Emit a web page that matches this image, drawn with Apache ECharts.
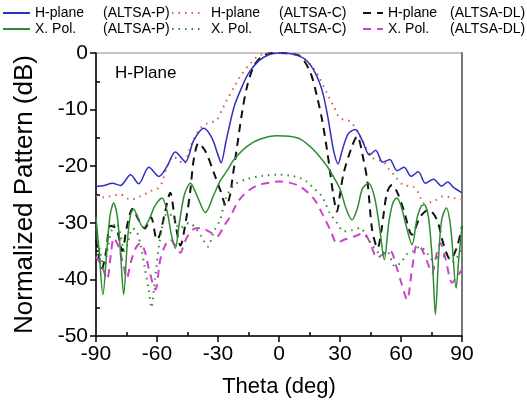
<!DOCTYPE html>
<html><head><meta charset="utf-8">
<script src="https://cdn.jsdelivr.net/npm/echarts@6/dist/echarts.min.js"></script>
<style>html,body{margin:0;padding:0;background:#fff}#c{width:527px;height:406px}</style>
</head><body><div id="c"></div>
<script>
// ---- data (theta in deg, normalized pattern in dB) ----
const xTicks = [-90, -60, -30, 0, 30, 60, 90];
const yTicks = [-50, -40, -30, -20, -10, 0];

const thetaHP_P = [-90,-86,-82,-78,-73,-69,-64,-59,-55,-51,-46,-42,-37,-33,-30,-28.5,-26,-22,-18,-15,-10,-5,0,5,10,14,17,20,22,24,25.5,27,29,31,34,37.5,41,44.5,47.5,51,54.5,58,61.5,65,68.5,72,76,80,83,86,90];
const hPlaneP   = [-23.6,-23.4,-23.0,-23.4,-21.5,-23.1,-20.2,-21.8,-20.0,-17.5,-19.2,-15.5,-13.3,-15.0,-18.0,-19.4,-15.5,-9.4,-5.8,-3.6,-1.4,-0.3,0,-0.1,-0.5,-1.5,-3.0,-5.3,-7.7,-11.3,-14.5,-17.5,-19.6,-17.3,-14.3,-13.5,-15.5,-18.0,-17.2,-19.3,-18.8,-20.8,-20.2,-21.8,-21.0,-23.0,-22.3,-23.5,-22.8,-23.8,-24.7];

const thetaHP_C = [-90,-86,-83,-78,-73,-68,-63,-58.5,-55,-52,-49,-47,-44,-42,-38,-35,-30.5,-28,-25.6,-22,-19,-14,-9,0,9,13,17,19.5,23.6,27,30,35,40,43.3,46,48.5,51.5,54,56.5,61,66,69,71,76,81,86,90];
const hPlaneC   = [-25.3,-25.5,-25.3,-25.0,-25.9,-25.3,-24.4,-23.6,-20.0,-18.3,-19.0,-19.7,-17.0,-15.3,-13.0,-12.4,-11.8,-10.0,-8.3,-6.0,-4.1,-1.8,-0.3,0,-0.3,-1.2,-2.7,-4.1,-7.1,-9.5,-11.5,-12.1,-14.7,-17.1,-18.5,-18.9,-19.2,-20.5,-21.5,-23.3,-23.6,-25.0,-26.5,-26.2,-25.3,-25.6,-25.9];

const thetaHP_DL = [-90,-87,-85,-83,-80,-77,-75,-72,-69,-66,-63,-60,-58.5,-56,-53.5,-51,-48.5,-45.5,-43.5,-42,-39.5,-36,-32,-28.9,-26,-24,-23,-20.6,-18.2,-15.7,-12.5,-9,-5,0,5,10.5,15.5,18.7,21.2,23.6,25.2,26.8,28.5,30,31.8,35.9,38.4,41.6,43.6,45.8,48.5,50.5,53.1,55.6,58,61.3,65.4,69.5,73.6,77.7,81,84.3,87.6,90];
const hPlaneDL   = [-33,-38,-35,-30.5,-31,-35,-31,-27.5,-29.5,-31,-29,-33,-32,-28,-24.7,-30,-34,-29,-24,-19,-15.9,-17.5,-21.2,-24.2,-27,-25,-22.4,-16.5,-10.6,-5.9,-2.4,-0.8,-0.1,0,-0.1,-0.6,-3.5,-7.7,-11.8,-17.1,-21.2,-25.3,-28,-25,-21.2,-16.5,-14.7,-18.9,-23,-31.2,-34.5,-31,-24.7,-23.3,-24.5,-27.7,-32.1,-28.9,-27.7,-29.5,-33.9,-36.5,-34.2,-30.6];

const thetaXP_P = [-90,-88.5,-86.6,-84.5,-83,-81.3,-79.5,-78,-76.4,-74.5,-73,-71.5,-69,-66.6,-64,-61,-57.5,-55,-53,-51,-49,-46.5,-43.6,-40,-36.2,-32,-28.9,-25,-22.3,-15.7,-9.2,-1,5,10.5,17,23.6,27,30.2,33,35.9,38.5,41,44.1,47,49.5,51.8,54,56,58,60,62.5,65.4,68,70,71.5,73.5,75.5,76.9,78.5,80,82.3,84.5,87.1,88.5,90];
const xPolP     = [-29,-35,-42.7,-34,-28.5,-26.5,-29,-35,-42.7,-33,-28.5,-27.6,-29.5,-30.9,-29.5,-27,-25.6,-28,-32,-34.5,-30,-25,-23,-25.5,-28.2,-25,-22.6,-20.5,-18.9,-16.5,-15.2,-14.6,-14.7,-15.2,-17.1,-20,-22,-24.2,-27.5,-29.5,-27.5,-24,-23,-25.5,-31,-36.5,-30,-26.5,-25.6,-27,-30.5,-33.9,-29,-27,-26.8,-29,-37,-46.2,-36,-29.5,-27.4,-31,-41.5,-36,-30.6];

const thetaXP_C = [-90,-88,-86,-84,-82,-80,-78,-76,-74,-72,-70,-68,-66,-64,-62.8,-61,-59,-57,-55,-52,-49,-47,-44,-41,-38,-35,-32,-29,-26,-22,-16,-8,0,6,10.5,14,17,20,22,25,28.5,31.8,36,40,43,46.5,50,53,57,60,63,66,69.5,73,75.3,79,82.7,85,87,90];
const xPolC     = [-31,-35,-38,-34,-31,-30,-32,-35,-33,-31,-31.5,-34,-38,-42,-45,-40,-34,-30,-28.3,-29,-31,-30.6,-30,-31,-32.5,-34.2,-31.5,-29.5,-25.5,-23.3,-22.3,-21.7,-21.5,-21.7,-22.1,-22.8,-23.9,-24.8,-25.9,-28.3,-30,-31.5,-31.3,-30.9,-32.5,-34.2,-35.5,-35,-37.7,-37,-35.5,-35,-34.2,-35.5,-36.5,-36,-35.9,-37,-36.5,-34.2];

const thetaXP_DL = [-90,-87,-84.6,-82.5,-81.3,-78.9,-76.5,-74.8,-73,-70.5,-68.2,-66,-64.1,-60.8,-58.4,-56,-53.5,-51,-48.5,-46.5,-44.5,-41.5,-38.7,-34.5,-30.5,-27,-24,-20,-15.7,-10,-2.6,0,5,10.5,17,22,25.5,28.5,32,35,38.5,41.6,45,48.2,51.5,54.8,57.5,60.5,63,65.5,67.9,70,72.5,75.3,77.5,79.4,82,85.1,87.5,90];
const xPolDL     = [-36,-37.7,-40,-35,-32.7,-34.2,-37.5,-39.8,-37.1,-34.5,-33.6,-35,-38,-41.8,-36.5,-34,-33,-34,-35.3,-33.5,-32.1,-31,-30.9,-31.5,-32.4,-30.5,-28.9,-26.2,-24.5,-23.3,-22.8,-22.7,-22.9,-23.6,-25.7,-28.9,-31.5,-33.6,-33,-32.7,-32.2,-31.8,-33.7,-36.2,-35.5,-35,-37.5,-41,-43.6,-38,-33.9,-34.5,-36.5,-38.9,-35.5,-33.6,-36.5,-40.6,-39.5,-38.3];

const names = [
  'H-plane|(ALTSA-P)', 'X. Pol.|(ALTSA-P)',
  'H-plane|(ALTSA-C)', 'X. Pol.|(ALTSA-C)',
  'H-plane|(ALTSA-DL)', 'X. Pol.|(ALTSA-DL)'
];

function pairs(t, v) { return t.map((x, i) => [x, v[i]]); }

const FONT = 'Liberation Sans, Arial, sans-serif';
const chart = echarts.init(document.getElementById('c'));

function mkSeries(name, t, v, color, width, type) {
  return {
    name: name, type: 'line', xAxisIndex: 0, yAxisIndex: 0,
    data: pairs(t, v), symbol: 'none', smooth: 0.3,
    lineStyle: { color: color, width: width, type: type },
    itemStyle: { color: color }
  };
}

function mkLegend(items, left, itemWidth, sWidth, aWidth) {
  return {
    data: items, left: left, top: 6, orient: 'vertical', padding: 0,
    itemWidth: itemWidth, itemHeight: 12, itemGap: 2,
    itemStyle: { color: 'rgba(0,0,0,0)', borderWidth: 0, opacity: 0 },
    textStyle: {
      fontFamily: FONT, fontSize: 14, color: '#000',
      rich: {
        s: { width: sWidth, fontSize: 14, lineHeight: 15 },
        a: { width: aWidth, fontFamily: FONT, fontSize: 14, color: '#000', lineHeight: 15 },
        b: { fontFamily: FONT, fontSize: 14, color: '#000', lineHeight: 15 }
      }
    },
    formatter: function (n) {
      const p = n.split('|');
      return (sWidth ? '{s|}' : '') + '{a|' + p[0] + '}{b|' + p[1] + '}';
    }
  };
}

const option = {
  backgroundColor: '#fff',
  animation: false,
  grid: { left: 96, right: 65, top: 53, bottom: 70, containLabel: false,
          show: true, borderColor: '#8a8a8a', borderWidth: 1 },
  legend: [
    mkLegend([names[0], names[1]], 2, 27, 0, 68),
    mkLegend([names[2], names[3]], 171, 29, 5, 68),
    mkLegend([names[4], names[5]], 362, 20, 0, 62)
  ],
  graphic: [{
    type: 'text', left: 115, top: 65,
    style: { text: 'H-Plane', fontFamily: FONT, fontSize: 17, fill: '#000' }
  }],
  xAxis: [
    { type: 'value', min: xTicks[0], max: xTicks[xTicks.length - 1], interval: 30, position: 'bottom',
      axisLine: { onZero: false, lineStyle: { color: '#000', width: 1.5 } },
      axisTick: { show: true, inside: false, length: 6, lineStyle: { color: '#000', width: 1.5 } },
      axisLabel: { fontFamily: FONT, fontSize: 21, color: '#000', margin: 8 },
      splitLine: { show: false },
      name: 'Theta (deg)', nameLocation: 'middle', nameGap: 40,
      nameTextStyle: { fontFamily: FONT, fontSize: 22, color: '#000' } },
    { type: 'value', min: -90, max: 90, interval: 30, position: 'bottom',
      axisLine: { show: false, onZero: false }, axisLabel: { show: false },
      axisTick: { show: false, inside: true },
      minorTick: { show: true, splitNumber: 2, length: 4, lineStyle: { color: '#000', width: 1.5 } },
      splitLine: { show: false } }
  ],
  yAxis: [
    { type: 'value', min: yTicks[0], max: yTicks[yTicks.length - 1], interval: 10, position: 'left',
      axisLine: { onZero: false, lineStyle: { color: '#000', width: 1.5 } },
      axisTick: { show: true, inside: false, length: 6, lineStyle: { color: '#000', width: 1.5 } },
      axisLabel: { fontFamily: FONT, fontSize: 21, color: '#000', margin: 8 },
      splitLine: { show: false },
      name: 'Normalized Pattern (dB)', nameLocation: 'middle', nameGap: 58,
      nameTextStyle: { fontFamily: FONT, fontSize: 26, color: '#000' } },
    { type: 'value', min: -50, max: 0, interval: 10, position: 'left',
      axisLine: { show: false, onZero: false }, axisLabel: { show: false },
      axisTick: { show: false, inside: true },
      minorTick: { show: true, splitNumber: 2, length: 4, lineStyle: { color: '#000', width: 1.5 } },
      splitLine: { show: false } },
    { type: 'value', min: -50, max: 0, position: 'right',
      axisLine: { show: true, onZero: false, lineStyle: { color: '#777', width: 2 } },
      axisTick: { show: false }, axisLabel: { show: false }, splitLine: { show: false } }
  ],
  series: [
    mkSeries(names[4], thetaHP_DL, hPlaneDL, '#111111', 2, [8, 6]),
    mkSeries(names[5], thetaXP_DL, xPolDL, '#d040d0', 2, [8, 6]),
    mkSeries(names[3], thetaXP_C, xPolC, '#2e8b2e', 2, [1.5, 5]),
    mkSeries(names[2], thetaHP_C, hPlaneC, '#e05a50', 2, [1.5, 5]),
    mkSeries(names[1], thetaXP_P, xPolP, '#2e8b2e', 1.5, 'solid'),
    mkSeries(names[0], thetaHP_P, hPlaneP, '#3030c0', 1.5, 'solid')
  ]
};
chart.setOption(option);
</script>
</body></html>
